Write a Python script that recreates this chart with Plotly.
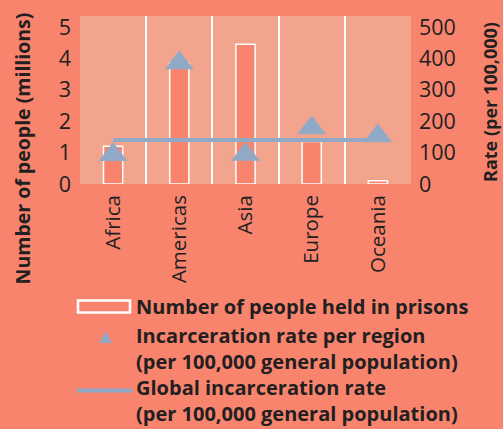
import plotly.graph_objects as go

regions = ["Africa", "Americas", "Asia", "Europe", "Oceania"]
people_millions = [1.2, 3.85, 4.45, 1.35, 0.1]
rate_per_region = [93, 385, 94, 178, 153]
global_rate = 140
global_line = [global_rate] * len(regions)

PAPER = "#F8846E"
PLOT = "#F2A48C"
BLUE = "#8FA9C6"
TXT = "#231F20"
FONT = "Open Sans"

W, H = 503, 429
L, R, T, B = 80, 411, 14, 184


def px(x):
    return (x - L) / (R - L)


def py(y):
    return (B - y) / (B - T)


fig = go.Figure()
fig.add_trace(go.Bar(x=regions, y=people_millions, width=0.29,
                     marker=dict(color=PAPER, line=dict(color="white", width=1.5)),
                     yaxis="y", showlegend=False))
fig.add_trace(go.Scatter(x=regions, y=global_line, mode="lines",
                         line=dict(color=BLUE, width=4), yaxis="y2", showlegend=False))
fig.add_trace(go.Scatter(x=regions, y=rate_per_region, mode="markers",
                         marker=dict(symbol="triangle-up", size=25, color=BLUE),
                         yaxis="y2", showlegend=False))

ann = []
ann.append(dict(text="<b>Number of people (millions)</b>", x=px(22), y=py(148), xref="paper", yref="paper",
                textangle=-90, showarrow=False, xanchor="center", yanchor="middle",
                font=dict(family=FONT, size=19.5, color=TXT)))
ann.append(dict(text="<b>Rate (per 100,000)</b>", x=px(490), y=py(101), xref="paper", yref="paper",
                textangle=-90, showarrow=False, xanchor="center", yanchor="middle",
                font=dict(family=FONT, size=18, color=TXT)))

legend_items = [
    ("Number of people held in prisons", 308),
    ("Incarceration rate per region<br>(per 100,000 general population)", 350.5),
    ("Global incarceration rate<br>(per 100,000 general population)", 403.5),
]
for txt, yy in legend_items:
    ann.append(dict(text="<b>" + txt.replace("<br>", "</b><br><b>") + "</b>", x=px(134), y=py(yy),
                    xref="paper", yref="paper", align="left",
                    showarrow=False, xanchor="left", yanchor="middle",
                    font=dict(family=FONT, size=20, color=TXT)))

shapes = [
    dict(type="rect", xref="paper", yref="paper", x0=px(78), x1=px(130), y0=py(302), y1=py(314),
         fillcolor=PAPER, line=dict(color="white", width=2.5)),
    dict(type="path", xref="paper", yref="paper",
         path=f"M {px(105.7)} {py(333)} L {px(112)} {py(345)} L {px(99.5)} {py(345)} Z",
         fillcolor=BLUE, line=dict(width=0)),
    dict(type="line", xref="paper", yref="paper", x0=px(77), x1=px(132), y0=py(393), y1=py(393),
         line=dict(color=BLUE, width=4)),
]

fig.update_layout(
    width=W, height=H,
    margin=dict(l=L, r=W - R, t=T, b=H - B, pad=0),
    paper_bgcolor=PAPER, plot_bgcolor=PLOT,
    font=dict(family=FONT, color=TXT, size=16),
    xaxis=dict(tickangle=-90, tickson="boundaries", showgrid=True, gridcolor="white", gridwidth=2,
               ticks="", showline=False, zeroline=False, tickfont=dict(size=20.5, color=TXT),
               range=[-0.5, 4.5], ticklabelstandoff=6),
    yaxis=dict(range=[0, 5.35], tickvals=[0, 1, 2, 3, 4, 5], showgrid=False, zeroline=False,
               ticks="", tickfont=dict(size=21.5, color=TXT), ticklabelstandoff=8),
    yaxis2=dict(range=[0, 535], tickvals=[0, 100, 200, 300, 400, 500], overlaying="y", side="right",
                showgrid=False, zeroline=False, ticks="", tickfont=dict(size=21.5, color=TXT),
                ticklabelstandoff=7),
    annotations=ann, shapes=shapes, bargap=0.5,
)

fig.write_html("out.html", config={"displayModeBar": False},
               post_script="document.body.style.margin='0';document.body.style.backgroundColor='" + PAPER + "';")
